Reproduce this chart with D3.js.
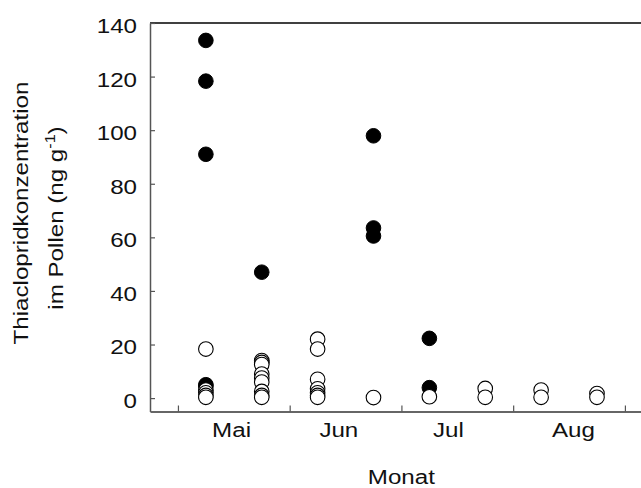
<!DOCTYPE html>
<html>
<head>
<meta charset="utf-8">
<script src="https://cdn.jsdelivr.net/npm/d3@7/dist/d3.min.js"></script>
<style>
  html, body { margin: 0; padding: 0; background: #fff; }
  svg { display: block; }
  text { font-family: "Liberation Sans", Arial, sans-serif; fill: #111; }
  .st { transform-box: fill-box; transform-origin: center; transform: scaleX(1.15); }
  .stR { transform-box: fill-box; transform-origin: right center; transform: scaleX(1.15); }
</style>
</head>
<body>
<script>
// ---- data ----
const months = ["Mai", "Jun", "Jul", "Aug"];
const monthLabelPos = [0.48, 1.44, 2.42, 3.54];
const monthBounds = [0, 1, 2, 3, 4];
const yTicks = [0, 20, 40, 60, 80, 100, 120, 140];

// filled circles (x = month index position, y = ng/g)
const filledX = [0.25, 0.25, 0.25, 0.25, 0.25, 0.75, 1.75, 1.75, 1.75, 2.25, 2.25];
const filledY = [133.5, 118.3, 91, 5, 4.5, 47, 97.9, 63.5, 60.5, 22.3, 3.9];

// open circles
const openX = [0.25, 0.25, 0.25, 0.25, 0.25,
               0.75, 0.75, 0.75, 0.75, 0.75, 0.75, 0.75, 0.75, 0.75,
               1.25, 1.25, 1.25, 1.25, 1.25, 1.25, 1.25,
               1.75, 2.25, 2.75, 2.75, 3.25, 3.25, 3.75, 3.75];
const openY = [18.3, 3.0, 2.0, 1.0, 0.3,
               14, 13.3, 12.5, 9, 7.5, 6, 2.5, 1, 0.3,
               22, 18.3, 7, 3.5, 2, 1, 0.3,
               0.2, 0.5, 3.6, 0.3, 3.0, 0.3, 1.7, 0.3];

// ---- chart ----
const W = 641, H = 488;
const svg = d3.select("body").append("svg").attr("width", W).attr("height", H);

const x = d3.scaleLinear().domain([-0.25, 4.144]).range([150, 641]);
const y = d3.scaleLinear().domain([-5, 140]).range([411.5, 23]);

// top frame line
svg.append("line")
  .attr("x1", x.range()[0]).attr("x2", x.range()[1])
  .attr("y1", y(140)).attr("y2", y(140))
  .attr("stroke", "#000").attr("stroke-width", 1.5);

// y axis
const gy = svg.append("g").attr("transform", `translate(${x.range()[0]},0)`)
  .call(d3.axisLeft(y).tickValues(yTicks).tickSizeInner(-5).tickSizeOuter(0).tickPadding(13));
gy.select(".domain").attr("stroke", "#555").attr("stroke-width", 1.5);
gy.selectAll(".tick line").attr("stroke", "#555").attr("stroke-width", 1.2);
gy.selectAll(".tick text").attr("font-size", 21).attr("dy", "0.45em").attr("class", "stR");

// x axis
const gx = svg.append("g").attr("transform", `translate(0,${y(-5)})`)
  .call(d3.axisBottom(x).tickValues(monthBounds).tickSizeInner(-6).tickSizeOuter(0).tickFormat(""));
gx.select(".domain").attr("stroke", "#666").attr("stroke-width", 2);
gx.selectAll(".tick line").attr("stroke", "#555").attr("stroke-width", 1.2);

// month labels
svg.append("g").selectAll("text").data(months).join("text")
  .attr("class", "st")
  .attr("x", (d, i) => x(monthLabelPos[i]))
  .attr("y", 437)
  .attr("text-anchor", "middle")
  .attr("font-size", 21)
  .text(d => d);

// x title
svg.append("text").attr("class", "st")
  .attr("x", x(2)).attr("y", 484)
  .attr("text-anchor", "middle").attr("font-size", 21)
  .text("Monat");

// y title (two lines)
const t1 = svg.append("g").attr("transform", "translate(28,213) rotate(-90)");
t1.append("text").attr("class", "st").attr("text-anchor", "middle").attr("font-size", 21)
  .text("Thiaclopridkonzentration");
const t2 = svg.append("g").attr("transform", "translate(63,218) rotate(-90)");
const tt = t2.append("text").attr("class", "st").attr("text-anchor", "middle").attr("font-size", 21);
tt.append("tspan").text("im Pollen (ng g");
tt.append("tspan").attr("font-size", 14).attr("dy", -8).text("-1");
tt.append("tspan").attr("dy", 8).text(")");

// points
const filled = filledX.map((v, i) => ({ x: v, y: filledY[i] }));
const open = openX.map((v, i) => ({ x: v, y: openY[i] }));

svg.append("g").selectAll("circle").data(filled).join("circle")
  .attr("cx", d => x(d.x)).attr("cy", d => y(d.y)).attr("r", 7.3)
  .attr("fill", "#000").attr("stroke", "#000").attr("stroke-width", 1);

svg.append("g").selectAll("circle").data(open).join("circle")
  .attr("cx", d => x(d.x)).attr("cy", d => y(d.y)).attr("r", 7.3)
  .attr("fill", "#fff").attr("stroke", "#000").attr("stroke-width", 1.1);
</script>
</body>
</html>
